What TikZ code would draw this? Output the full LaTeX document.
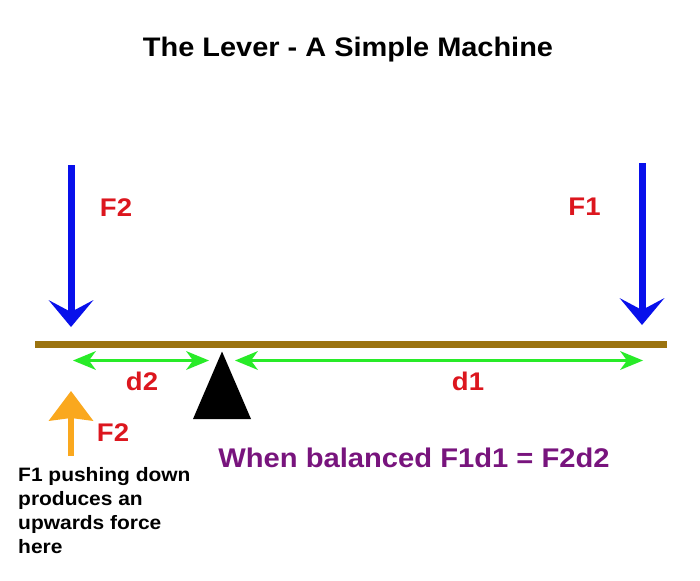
\documentclass[tikz,border=0pt]{standalone}
\usepackage{fontspec}
\setmainfont{Liberation Sans}[FakeStretch=1.08]
\usetikzlibrary{arrows.meta}
\definecolor{forceblue}{RGB}{8,16,235}
\definecolor{labelred}{RGB}{220,22,30}
\definecolor{leverbrown}{RGB}{155,115,15}
\definecolor{distgreen}{RGB}{40,235,40}
\definecolor{liftorange}{RGB}{250,168,30}
\definecolor{balpurple}{RGB}{120,20,125}
\tikzset{
  lbl/.style={inner sep=0pt, anchor=base, font=\bfseries\fontsize{25.5pt}{28pt}\selectfont, text=labelred},
  forcearrow/.style={draw=forceblue, line width=7pt, -{Stealth[length=27pt,width=45pt,inset=12pt,line width=0pt]}},
  liftarrow/.style={draw=liftorange, line width=6pt, -{Stealth[length=30pt,width=45pt,inset=3pt,line width=0pt]}},
  distarrow/.style={draw=distgreen, line width=3pt, {Stealth[length=23pt,width=19pt,inset=7pt,line width=0pt]}-{Stealth[length=23pt,width=19pt,inset=7pt,line width=0pt]}},
}
\begin{document}
\begin{tikzpicture}[x=1pt,y=-1pt]
\useasboundingbox (0,0) rectangle (700,580);
% title
\node[inner sep=0pt, anchor=base, font=\bfseries\fontsize{26.8pt}{30pt}\selectfont] (title) at (348,56.7) {The Lever - A Simple Machine};
% lever
\coordinate (barL) at (35,344.7);
\coordinate (barR) at (667,344.7);
\draw[leverbrown, line width=7pt] (barL) -- (barR);
% fulcrum
\coordinate (apex) at (222,351.5);
\coordinate (baseL) at (193,419);
\coordinate (baseR) at (251,419);
\fill[black] (apex) -- (baseR) -- (baseL) -- cycle;
% force arrows
\coordinate (f2top) at (71,165);
\coordinate (f2tip) at (71,327);
\coordinate (f1top) at (642,163);
\coordinate (f1tip) at (642,325);
\draw[forcearrow] (f2top) -- (f2tip);
\draw[forcearrow] (f1top) -- (f1tip);
\node[lbl] (F2top) at (116,216) {F2};
\node[lbl] (F1top) at (584.5,215) {F1};
% distances
\coordinate (d2L) at (73,360.5);
\coordinate (d2R) at (209,360.5);
\coordinate (d1L) at (235,360.5);
\coordinate (d1R) at (643,360.5);
\draw[distarrow] (d2L) -- (d2R);
\draw[distarrow] (d1L) -- (d1R);
\node[lbl] (d2) at (142,390.5) {d2};
\node[lbl] (d1) at (468,390.5) {d1};
% upward force
\coordinate (upbot) at (71,456);
\coordinate (uptip) at (71,391);
\draw[liftarrow] (upbot) -- (uptip);
\node[lbl] (F2low) at (113,441.7) {F2};
\node[inner sep=0pt, anchor=base west, align=left, font=\bfseries\fontsize{19.4pt}{24pt}\selectfont] (note) at (18,553) {F1 pushing down\\produces an\\upwards force\\here};
% balance
\node[inner sep=0pt, anchor=base, text=balpurple, font=\bfseries\fontsize{27pt}{30pt}\selectfont] (balance) at (414,467.7) {When balanced F1d1 = F2d2};
\end{tikzpicture}
\end{document}
